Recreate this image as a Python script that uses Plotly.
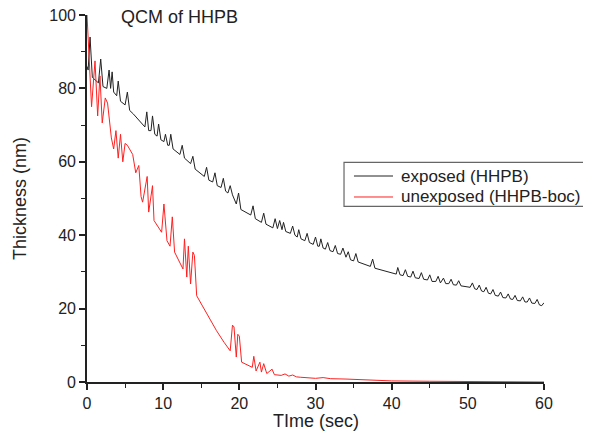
import plotly.graph_objects as go

# exposed (HHPB) - black
exp_t = [0.0, 0.15, 0.4, 0.7, 1.5, 1.8, 2.1, 2.6, 2.9, 3.1, 3.3, 3.5, 3.9, 4.1, 4.4, 5.0, 5.3, 5.6, 6.1,
         7.6, 7.85, 8.1, 8.4, 8.6, 8.9, 9.2, 9.4, 9.7, 10.1, 10.3, 10.6, 10.8, 11.0, 11.3, 12.2, 12.5, 12.8,
         13.6, 13.9, 14.2, 15.4, 15.7, 16.0, 16.5, 16.8, 17.1, 17.6, 17.9, 18.2, 18.5, 18.8, 19.1,
         19.6, 19.9, 20.2, 21.5, 21.8, 22.1, 22.9, 23.2, 23.5, 24.4, 24.7, 25.0, 25.3, 25.6, 25.8, 26.1,
         26.7, 27.0, 27.3, 27.6, 27.8, 28.1, 28.6, 28.9, 29.2, 29.7, 30.0, 30.3, 30.5, 30.7, 31.0, 31.3,
         31.6, 31.9, 32.3, 32.6, 32.9, 33.3, 33.6, 33.9, 34.0, 34.3, 34.6, 35.0, 35.3, 35.6, 37.2, 37.5,
         37.8, 40.6, 40.8, 41.1, 41.5, 41.8, 42.1, 42.5, 42.8, 43.1, 43.6, 43.9, 44.2, 44.7, 45.0, 45.3,
         45.8, 46.1, 46.4, 46.8, 47.1, 47.5, 47.8, 48.1, 48.5, 48.8, 49.1, 50.3, 50.6, 50.9, 51.2, 51.5,
         51.8, 52.1, 52.4, 52.7, 53.0, 53.3, 53.6, 54.0, 54.3, 54.6, 55.0, 55.3, 55.6, 55.9, 56.2, 56.5,
         56.9, 57.2, 57.5, 57.8, 58.1, 58.4, 58.8, 59.1, 59.4, 59.7, 60.0]
exp_y = [86, 85, 94, 83, 81.5, 88, 80.5, 80, 85, 80, 84.5, 79, 78, 82, 76.5, 75.5, 79, 74, 73,
         69.5, 73.6, 68.5, 68.5, 72.5, 67.5, 67, 70.3, 66, 65.5, 67.5, 64.5, 64.5, 67.5, 63.5, 62, 64.5, 61,
         59.5, 61.5, 58, 56, 58.5, 55, 54.5, 57, 53.5, 53, 55.5, 52, 51.5, 53.5, 51,
         48.5, 51.5, 47, 45.5, 48, 44.5, 43.5, 46, 43, 42, 44.5, 41.8, 44, 41.5, 43.5, 41,
         40.5, 42.5, 40, 39.5, 41.5, 39, 38.5, 40.5, 38, 37.5, 39.5, 37, 37, 39, 36.5, 36.2,
         38, 35.8, 35.5, 37.2, 35, 34.8, 36.5, 34.5, 34.0, 35.5, 33.3, 33.0, 35.0, 32.7, 31.5, 33.5,
         31, 29.4, 31.2, 29.2, 29.0, 30.6, 28.8, 28.6, 30.2, 28.4, 28.2, 29.8, 28, 27.8, 29.2, 27.4,
         27.4, 28.8, 27.0, 28.3, 26.8, 26.8, 28.0, 26.5, 26.4, 27.6, 26.2, 25.8, 27.0, 25.4, 25.2, 26.4,
         24.8, 24.6, 25.8, 24.2, 24.0, 25.2, 23.6, 23.4, 24.5, 23.0, 22.9, 24.0, 22.6, 22.5, 23.6, 22.2,
         22.1, 23.2, 21.8, 21.8, 22.9, 21.5, 21.4, 22.5, 21.0, 20.8, 21.6]

# unexposed (HHPB-boc) - red
unexp_t = [0.0, 0.6, 1.05, 1.4, 1.7, 2.0, 2.4, 2.7, 3.2, 3.5, 3.8, 4.1, 4.4, 4.7, 5.0, 5.3, 6.0, 6.4,
           6.8, 7.1, 7.3, 7.9, 8.1, 8.6, 8.8, 9.8, 10.1, 10.5, 10.9, 11.2, 11.5, 12.6, 12.8, 13.1, 13.3,
           13.6, 13.9, 14.1, 14.4, 15.0, 16.0, 17.0, 18.0, 18.8, 19.1, 19.3, 19.6, 19.8, 20.0, 20.3, 21.7,
           21.9, 22.2, 22.7, 22.9, 23.2, 23.6, 24.3, 24.6, 25.5, 26.0, 26.5, 27.0, 27.5, 28.0, 29.0, 30.0,
           31.0, 32.0, 34.0, 36.0, 38.0, 40.0, 45.0, 50.0, 55.0, 60.0]
unexp_y = [100, 75, 87.5, 72.5, 83.4, 70.6, 77.4, 76, 66.5, 63.5, 68.5, 61, 67.5, 60, 65, 64.5, 62, 57,
           59, 50.5, 49, 56, 46.3, 53.5, 44, 40.8, 48.5, 38.5, 37, 45, 35.4, 30.8, 39, 28.6, 37,
           26.7, 35.4, 34.5, 23.5, 21.3, 17.5, 14.0, 10.8, 8.5, 15.5, 15, 6.8, 13, 12.5, 5.4, 4,
           7, 3, 5.4, 2.7, 5, 2.3, 3.5, 2, 1.8, 2.2, 1.6, 1.9, 1.4, 1.3, 1.2, 1.0,
           1.2, 0.9, 0.8, 0.6, 0.5, 0.3, 0.2, 0.1, 0.0, 0.0]

series_names = ["exposed (HHPB)", "unexposed (HHPB-boc)"]
series_colors = ["#222222", "#ff2020"]

x_ticks = [0, 10, 20, 30, 40, 50, 60]
y_ticks = [0, 20, 40, 60, 80, 100]

FONT = "Arial, Liberation Sans, sans-serif"
INK = "#222222"

fig = go.Figure()
fig.add_trace(go.Scatter(x=exp_t, y=exp_y, mode="lines", name=series_names[0],
                         line=dict(color=series_colors[0], width=1), showlegend=False))
fig.add_trace(go.Scatter(x=unexp_t, y=unexp_y, mode="lines", name=series_names[1],
                         line=dict(color=series_colors[1], width=1), showlegend=False))

axis_common = dict(showgrid=False, zeroline=False, showline=True, linecolor=INK, linewidth=1.6,
                   ticks="outside", ticklen=6, tickwidth=1.6, tickcolor=INK, automargin=False,
                   ticklabeloverflow="allow",
                   tickfont=dict(family=FONT, size=16, color=INK))

fig.update_xaxes(range=[0, 60], tickvals=x_ticks, **axis_common,
                 minor=dict(ticks="outside", ticklen=4, tickwidth=1.2, tickcolor=INK, dtick=5))
fig.update_yaxes(range=[0, 100], tickvals=y_ticks, **axis_common,
                 minor=dict(ticks="outside", ticklen=4, tickwidth=1.2, tickcolor=INK, dtick=10))

fig.add_annotation(text="QCM of HHPB", xref="paper", yref="paper", x=0.2035, y=0.994,
                   xanchor="center", yanchor="middle", showarrow=False,
                   font=dict(family=FONT, size=18, color=INK))
fig.add_annotation(text="TIme (sec)", xref="paper", yref="paper", x=0.5, y=-0.106,
                   xanchor="center", yanchor="middle", showarrow=False,
                   font=dict(family=FONT, size=18, color=INK))
fig.add_annotation(text="Thickness (nm)", xref="paper", yref="paper", x=-0.1466, y=0.4986,
                   xanchor="center", yanchor="middle", showarrow=False, textangle=-90,
                   font=dict(family=FONT, size=18, color=INK))

# legend box (drawn by hand to match the compact original)
fig.add_shape(type="rect", xref="paper", yref="paper", x0=0.5624, x1=1.1007, y0=0.4787, y1=0.5986,
              line=dict(color="#666666", width=1.2), fillcolor="white", layer="above")
legend_rows_y = [0.5613, 0.5041]
for name, color, ly in zip(series_names, series_colors, legend_rows_y):
    fig.add_shape(type="line", xref="paper", yref="paper", x0=0.5842, x1=0.6696, y0=ly, y1=ly,
                  line=dict(color=color, width=1), layer="above")
    fig.add_annotation(text=name, xref="paper", yref="paper", x=0.6827, y=ly,
                       xanchor="left", yanchor="middle", showarrow=False,
                       font=dict(family=FONT, size=17, color=INK))

# page body has an 8px margin, so the figure is drawn 8px in and 8px down
fig.update_layout(
    width=583, height=433,
    margin=dict(l=79, r=47, t=7, b=59),
    plot_bgcolor="white", paper_bgcolor="white",
    showlegend=False,
)

fig.write_html("out.html")
